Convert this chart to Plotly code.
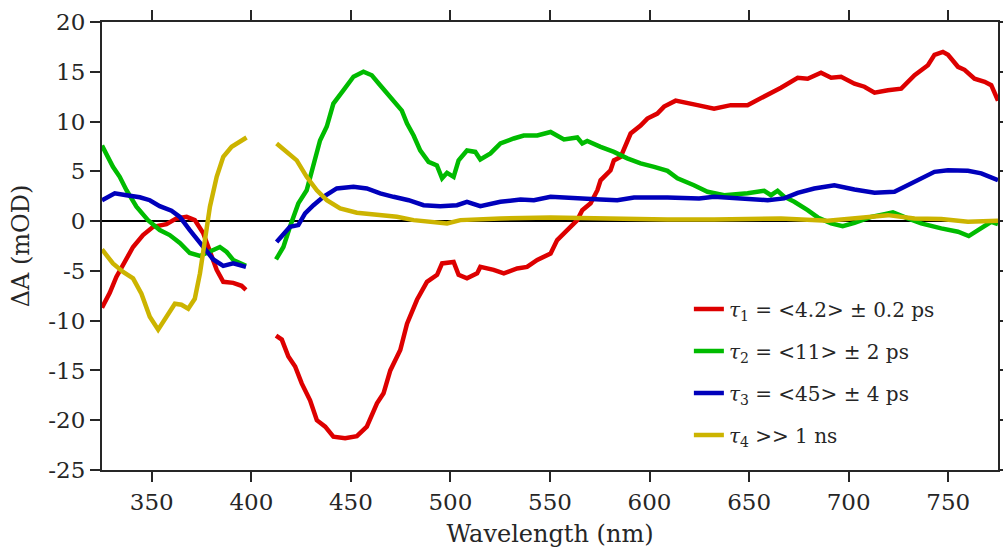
import plotly.graph_objects as go

# ---------------- data ----------------
wl_red = [325, 328.9, 332.2, 337.3, 340.6, 345.6, 350.7, 357.4, 362.4, 367.5, 371.6, 375.8, 379.2,
          382.6, 385.9, 390.9, 395.1, 397.3, None,
          412.4, 415.3, 418.6, 422, 425.3, 429.5, 432.9, 437.1, 441.2, 447.1, 453, 458, 463.1, 466.4,
          469.8, 474.8, 478.2, 483.2, 488.2, 493.3, 495.8, 501.6, 504.1, 508.3, 513.4, 515, 521.7,
          526.8, 533.5, 538.5, 543.6, 550.3, 553.6, 558.7, 563.7, 566.2, 570.4, 573.8, 575.4, 580.4,
          582.1, 585.5, 590.5, 595.5, 598.9, 603.9, 607.3, 613.1, 619, 624.1, 632.4, 640.8, 649.2,
          655.9, 660.9, 666, 674.4, 679.4, 686.1, 691.2, 696.2, 702.9, 707.9, 713, 719.7, 726.4,
          733.1, 739.8, 743.1, 747.3, 749.9, 754.9, 758.2, 763.2, 768.3, 771.6, 775]
dA_red = [-8.7, -7.2, -5.6, -3.9, -2.6, -1.4, -0.57, -0.3, 0.27, 0.43, 0.1, -1.2, -3.2,
          -4.9, -6.1, -6.2, -6.5, -6.9, None,
          -11.5, -11.9, -13.6, -14.6, -16.3, -18, -20, -20.65, -21.65, -21.8, -21.6, -20.65, -18.3, -17.3,
          -15, -12.95, -10.3, -7.9, -6.1, -5.4, -4.25, -4.1, -5.4, -5.75, -5.25, -4.6, -4.9,
          -5.25, -4.75, -4.6, -3.9, -3.25, -1.9, -0.9, 0.1, 1.1, 1.8, 3.1, 4.1, 5.1,
          6.1, 6.45, 8.8, 9.6, 10.3, 10.8, 11.5, 12.1, 11.8, 11.65, 11.3, 11.65, 11.65,
          12.3, 12.8, 13.4, 14.4, 14.3, 14.9, 14.4, 14.5, 13.8, 13.5, 12.9, 13.15, 13.3,
          14.65, 15.65, 16.7, 17.0, 16.7, 15.5, 15.2, 14.3, 14.0, 13.65, 12.1]

wl_green = [325, 330.5, 333.9, 337.3, 342.3, 348.1, 354, 359, 364.1, 369.1, 374.2, 379.2, 384.2,
            387.6, 390.9, 397.3, None,
            412.4, 416.1, 419.4, 423.6, 427.8, 431.2, 434.5, 437.9, 441.2, 446.3, 451.3, 456.3, 460.5,
            464.7, 468.1, 471.4, 475.6, 478.2, 481.5, 484.8, 489, 493.2, 495.8, 498.3, 501.6, 504.1,
            508.3, 512.5, 515, 520.1, 525.1, 531.8, 536.8, 543.6, 550.3, 557, 563.7, 566.2, 568.7,
            575.4, 582.1, 588.8, 595.5, 602.3, 609, 614, 619, 622.3, 629.1, 637.5, 649.2, 657.6, 661,
            664.3, 667.6, 672.7, 679.4, 684.5, 691.2, 697, 702.9, 711.3, 718, 722.2, 729.7, 736.4,
            746.5, 754.9, 760.3, 766.6, 771.6, 775]
dA_green = [7.6, 5.45, 4.45, 3.1, 1.44, 0.1, -0.9, -1.4, -2.2, -3.2, -3.5, -3.0, -2.6,
            -3.1, -3.9, -4.5, None,
            -3.85, -2.6, -0.57, 1.78, 3.1, 5.8, 8.1, 9.5, 11.8, 13.15, 14.5, 15.0, 14.65,
            13.65, 12.8, 12.0, 11.1, 9.8, 8.6, 7.1, 5.95, 5.6, 4.3, 4.85, 4.45, 6.1,
            7.1, 6.95, 6.2, 6.8, 7.8, 8.3, 8.6, 8.6, 8.95, 8.2, 8.4, 7.8, 8.05,
            7.46, 6.95, 6.3, 5.8, 5.45, 5.05, 4.3, 3.95, 3.6, 2.95, 2.6, 2.8, 3.05, 2.6,
            3.05, 2.45, 1.94, 1.1, 0.37, -0.23, -0.5, -0.17, 0.43, 0.7, 0.87, 0.27, -0.23,
            -0.73, -1.07, -1.5, -0.73, -0.07, -0.3]

wl_blue = [325, 331.4, 337.3, 344, 349, 354, 359.9, 364.1, 369.1, 374.2, 380.9, 385.9, 390.9, 397.3, None,
           412.7, 416.1, 419.4, 423.6, 427, 431.2, 436.2, 442.9, 451.3, 458, 464.7, 471.4, 479, 486.5,
           494.9, 503.3, 508.3, 515, 525.1, 535.2, 541.9, 550.3, 562, 575.4, 583.8, 592.2, 609, 624.9,
           632.4, 649.2, 659.3, 667.6, 674.4, 682.7, 692.8, 702.9, 713, 723, 733.1, 743.1, 749.9,
           759.9, 766.6, 775]
dA_blue = [2.1, 2.8, 2.6, 2.4, 2.1, 1.5, 1.04, 0.43, -0.9, -2.2, -3.85, -4.5, -4.25, -4.6, None,
           -2.1, -1.25, -0.57, -0.4, 0.77, 1.6, 2.44, 3.28, 3.44, 3.28, 2.78, 2.44, 2.1, 1.6,
           1.5, 1.6, 1.94, 1.5, 1.94, 2.18, 2.1, 2.44, 2.28, 2.18, 2.1, 2.38, 2.38, 2.28,
           2.44, 2.28, 2.1, 2.28, 2.84, 3.28, 3.6, 3.18, 2.84, 2.94, 3.95, 4.95, 5.1,
           5.05, 4.8, 4.1]

wl_yellow = [325, 330.5, 335.6, 340.6, 344.8, 349, 353.2, 357.4, 361.6, 364.9, 368.3, 371.6, 374.2,
             376.7, 379.2, 382.6, 385.9, 390.1, 394.3, 397.6, None,
             412.7, 417.8, 422.8, 427.8, 432.9, 437.9, 444.6, 453, 463.1, 473.1, 481.5, 491.6, 498.3,
             505, 525.1, 550.3, 575.4, 609, 632.4, 666, 689.5, 706.2, 719.7, 733.1, 746.5, 759.9, 775]
dA_yellow = [-2.85, -4.25, -5.1, -5.75, -7.3, -9.6, -10.9, -9.6, -8.3, -8.4, -8.8, -7.8, -5.25,
             -1.9, 1.44, 4.45, 6.45, 7.46, 7.96, 8.4, None,
             7.8, 6.95, 6.1, 4.45, 3.1, 2.1, 1.27, 0.84, 0.6, 0.43, 0.1, -0.07, -0.23,
             0.1, 0.27, 0.37, 0.27, 0.17, 0.17, 0.27, 0.03, 0.37, 0.6, 0.27, 0.2, -0.07, 0.03]

series_names = [
    "<i>τ</i><sub>1</sub> = &lt;4.2&gt; ± 0.2 ps",
    "<i>τ</i><sub>2</sub> = &lt;11&gt; ± 2 ps",
    "<i>τ</i><sub>3</sub> = &lt;45&gt; ± 4 ps",
    "<i>τ</i><sub>4</sub> &gt;&gt; 1 ns",
]
series_colors = ["#dd0000", "#00bb00", "#0000bb", "#ccb400"]

x_tickvals = [350, 400, 450, 500, 550, 600, 650, 700, 750]
x_ticktext = ["350", "400", "450", "500", "550", "600", "650", "700", "750"]
y_tickvals = [-25, -20, -15, -10, -5, 0, 5, 10, 15, 20]
y_ticktext = ["-25", "-20", "-15", "-10", "-5", "0", "5", "10", "15", "20"]

# ---------------- figure ----------------
FONT = "DejaVu Serif"
AX = "#262626"
TICKFONT = dict(family=FONT, size=23, color=AX)
TITLEFONT = dict(family=FONT, size=24, color=AX)

fig = go.Figure()
for i, (xs, ys, name, col) in enumerate(zip([wl_red, wl_green, wl_blue, wl_yellow],
                                            [dA_red, dA_green, dA_blue, dA_yellow],
                                            series_names, series_colors)):
    fig.add_trace(go.Scatter(x=xs, y=ys, mode="lines", name=name, connectgaps=False,
                             legendgroup=f"g{i}",
                             line=dict(color=col, width=4.5)))

fig.update_layout(
    template="none",
    width=1003, height=557,
    margin=dict(l=102, r=5, t=22, b=87),
    paper_bgcolor="white", plot_bgcolor="white",
    font=dict(family=FONT, size=23, color=AX),
    showlegend=True,
    legend=dict(x=0.655, y=0.403, xanchor="left", yanchor="top",
                bgcolor="rgba(0,0,0,0)", borderwidth=0,
                font=dict(family=FONT, size=20, color=AX),
                tracegroupgap=13),
)
fig.update_xaxes(
    range=[325, 775], tickvals=x_tickvals, ticktext=x_ticktext, tickfont=TICKFONT,
    ticks="outside", ticklen=10, tickwidth=2, tickcolor=AX,
    showline=True, linewidth=2, linecolor=AX, mirror="ticks",
    showgrid=False, zeroline=False,
    title=dict(text="Wavelength (nm)", standoff=12, font=TITLEFONT),
)
fig.update_yaxes(
    range=[-25, 20], tickvals=y_tickvals, ticktext=y_ticktext, tickfont=TICKFONT,
    ticks="outside", ticklen=10, tickwidth=2, tickcolor=AX,
    showline=True, linewidth=2, linecolor=AX, mirror="ticks",
    showgrid=False, zeroline=True, zerolinecolor="black", zerolinewidth=2,
    title=dict(text="ΔA (mOD)", standoff=12, font=TITLEFONT),
)

fig.write_html("out.html")
